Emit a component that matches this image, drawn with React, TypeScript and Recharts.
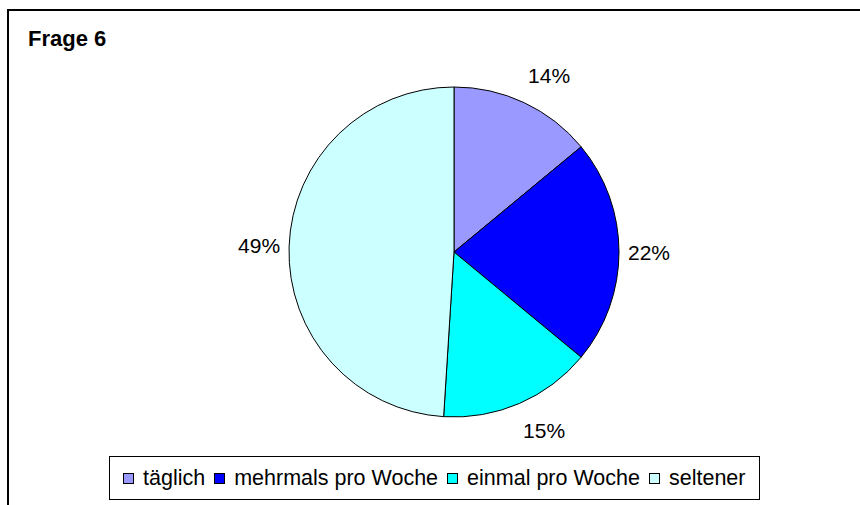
import { Cell, Legend, Pie, PieChart } from 'recharts';

const CATEGORIES = ['täglich', 'mehrmals pro Woche', 'einmal pro Woche', 'seltener'];
const SHARES = [14, 22, 15, 49];
const SLICE_COLORS = ['#9999FF', '#0000FF', '#00FFFF', '#CCFFFF'];

const FONT = '"Liberation Sans", Arial, sans-serif';
const RADIAN = Math.PI / 180;
const LABEL_SIZE = 21;

const chartData = CATEGORIES.map((name, i) => ({ name, value: SHARES[i] }));

// Excel-style: the nearest corner of the label box sits a small gap outside the slice edge
function renderLabel(props: any) {
  const { cx, cy, midAngle, outerRadius, value } = props;
  const text = `${value}%`;
  const w = LABEL_SIZE * (0.556 * (text.length - 1) + 0.889);
  const h = LABEL_SIZE;
  const dx = Math.cos(-midAngle * RADIAN);
  const dy = Math.sin(-midAngle * RADIAN);
  const d = outerRadius + 9;
  const x = cx + d * dx + (w / 2) * Math.sign(dx);
  const y = cy + d * dy + h * dy;
  return (
    <text
      x={x}
      y={y}
      textAnchor="middle"
      dominantBaseline="central"
      fontFamily={FONT}
      fontSize={LABEL_SIZE}
      fill="#000"
    >
      {text}
    </text>
  );
}

function LegendBox() {
  return (
    <div
      style={{
        boxSizing: 'border-box',
        width: 651,
        height: 44,
        border: '1px solid #000',
        background: '#fff',
        display: 'flex',
        alignItems: 'center',
        paddingLeft: 13,
        fontFamily: FONT,
        fontSize: 21.5,
        color: '#000',
        whiteSpace: 'nowrap',
      }}
    >
      {CATEGORIES.map((name, i) => (
        <span key={name} style={{ display: 'flex', alignItems: 'center', marginRight: 9 }}>
          <span
            style={{
              display: 'inline-block',
              boxSizing: 'border-box',
              width: 11,
              height: 11,
              border: '1px solid #000',
              background: SLICE_COLORS[i],
              marginRight: 9,
            }}
          />
          {name}
        </span>
      ))}
    </div>
  );
}

export default function App() {
  return (
    <div style={{ position: 'relative', width: 860, height: 505, overflow: 'hidden', background: '#fff' }}>
      <style>{'body{margin:0}'}</style>
      <div
        style={{
          position: 'absolute',
          left: 7,
          top: 9,
          width: 900,
          height: 600,
          borderLeft: '2px solid #000',
          borderTop: '2px solid #000',
        }}
      />
      <div
        style={{
          position: 'absolute',
          left: 28,
          top: 28,
          fontFamily: FONT,
          fontWeight: 'bold',
          fontSize: 22,
          lineHeight: '22px',
        }}
      >
        Frage 6
      </div>
      <PieChart
        width={860}
        height={505}
        margin={{ top: 0, right: 0, bottom: 0, left: 0 }}
        style={{ position: 'absolute', left: 0, top: 0 }}
      >
        <Pie
          data={chartData}
          dataKey="value"
          nameKey="name"
          cx={454}
          cy={252}
          outerRadius={165}
          startAngle={90}
          endAngle={-270}
          stroke="#000"
          strokeWidth={1}
          label={renderLabel}
          labelLine={false}
          isAnimationActive={false}
        >
          {chartData.map((entry, i) => (
            <Cell key={entry.name} fill={SLICE_COLORS[i]} />
          ))}
        </Pie>
        <Legend
          content={<LegendBox />}
          wrapperStyle={{ position: 'absolute', left: 109, top: 456, width: 651, height: 44 }}
        />
      </PieChart>
    </div>
  );
}
